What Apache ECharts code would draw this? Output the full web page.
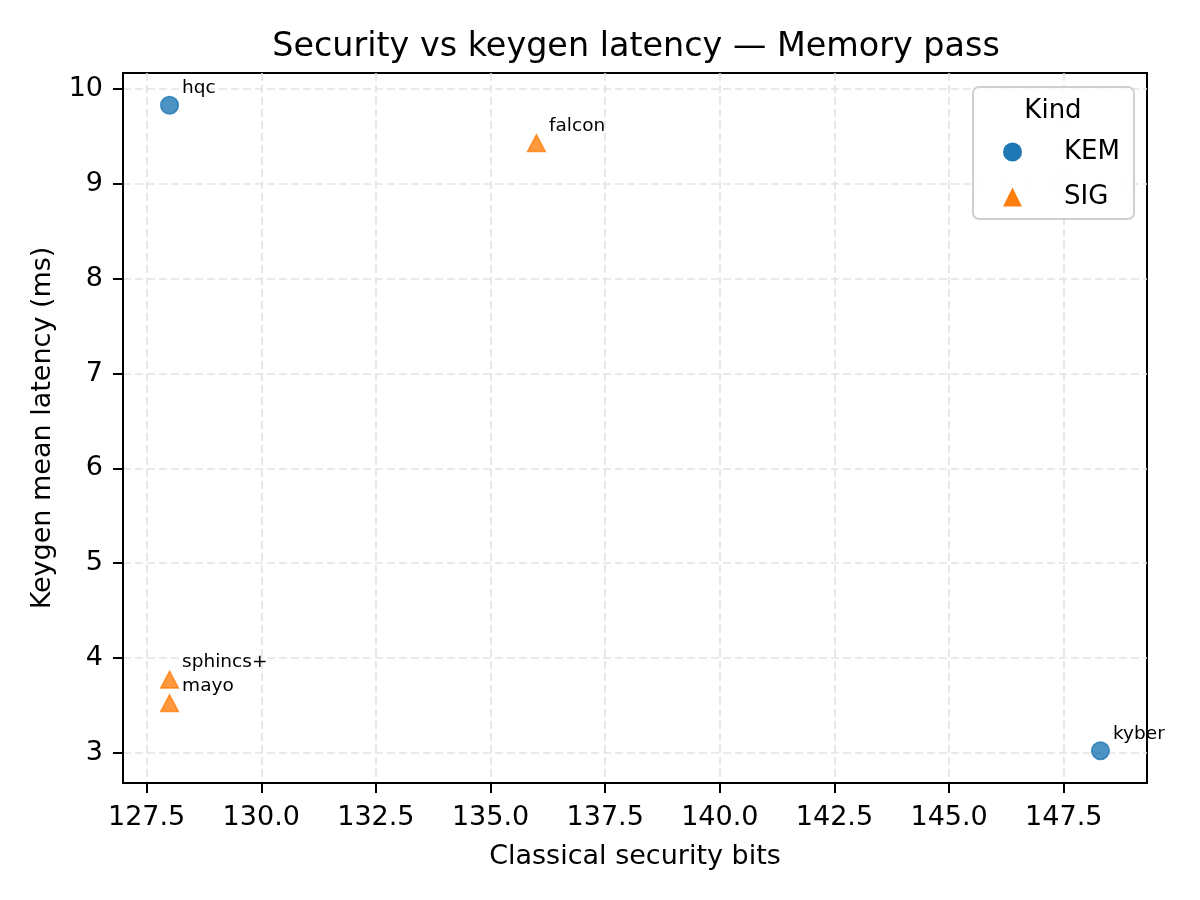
<!DOCTYPE html>
<html>
<head>
<meta charset="utf-8">
<script src="https://cdn.jsdelivr.net/npm/echarts@6/dist/echarts.min.js"></script>
<style>
  html, body { margin: 0; padding: 0; background: #fff; }
  #chart { width: 1200px; height: 900px; }
</style>
</head>
<body>
<div id="chart"></div>
<script>
// scheme points
const kemNames = ['hqc', 'kyber'];
const kemBits = [128, 148.3];
const kemLatency = [9.83, 3.02];

const sigNames = ['falcon', 'sphincs+', 'mayo'];
const sigBits = [136, 128, 128];
const sigLatency = [9.43, 3.77, 3.52];

const xTicks = [127.5, 130, 132.5, 135, 137.5, 140, 142.5, 145, 147.5];
const yTicks = [3, 4, 5, 6, 7, 8, 9, 10];

const FONT = 'DejaVu Sans';
const BLUE = '#1f77b4';
const ORANGE = '#ff7f0e';

function toPoints(names, xs, ys) {
  let out = [];
  for (let i = 0; i < names.length; i++) {
    out.push({ name: names[i], value: [xs[i], ys[i]] });
  }
  return out;
}

// matplotlib style 5% margins around the data
function padRange(vals) {
  const lo = Math.min.apply(null, vals);
  const hi = Math.max.apply(null, vals);
  const pad = (hi - lo) * 0.05;
  return [lo - pad, hi + pad];
}
const xRange = padRange(kemBits.concat(sigBits));
const yRange = padRange(kemLatency.concat(sigLatency));

const gridLine = { show: true, lineStyle: { color: '#e3e3e3', width: 1.6, type: [8, 4] } };

function pointLabel() {
  return {
    show: true,
    position: 'right',
    distance: 3,
    offset: [0, -17],
    formatter: '{b}',
    fontFamily: FONT,
    fontSize: 18.5,
    color: '#000',
    opacity: 1
  };
}

const chart = echarts.init(document.getElementById('chart'), null, { renderer: 'canvas' });

const options = {
  backgroundColor: '#fff',
  animation: false,
  title: {
    text: 'Security vs keygen latency \u2014 Memory pass',
    left: 631,
    top: 26,
    textAlign: 'center',
    textStyle: { fontFamily: FONT, fontSize: 33.4, fontWeight: 'normal', color: '#000' }
  },
  grid: {
    left: 123, right: 53, top: 73, bottom: 117,
    show: true, borderColor: '#000', borderWidth: 2, backgroundColor: 'transparent'
  },
  xAxis: {
    type: 'value',
    min: xRange[0],
    max: xRange[1],
    name: 'Classical security bits',
    nameLocation: 'middle',
    nameGap: 60,
    nameTextStyle: { fontFamily: FONT, fontSize: 27, color: '#000' },
    axisLine: { show: true, lineStyle: { color: '#000', width: 2 } },
    axisTick: { show: true, inside: false, length: 10, lineStyle: { color: '#000', width: 2 }, customValues: xTicks },
    axisLabel: {
      fontFamily: FONT, fontSize: 27, color: '#000', margin: 21,
      customValues: xTicks,
      formatter: (v) => Number(v).toFixed(1)
    },
    splitLine: gridLine
  },
  yAxis: {
    type: 'value',
    min: yRange[0],
    max: yRange[1],
    name: 'Keygen mean latency (ms)',
    nameLocation: 'middle',
    nameGap: 67,
    nameTextStyle: { fontFamily: FONT, fontSize: 27, color: '#000' },
    axisLine: { show: true, lineStyle: { color: '#000', width: 2 } },
    axisTick: { show: true, inside: false, length: 10, lineStyle: { color: '#000', width: 2 }, customValues: yTicks },
    axisLabel: {
      fontFamily: FONT, fontSize: 27, color: '#000', margin: 20,
      customValues: yTicks,
      formatter: (v) => String(Math.round(v))
    },
    splitLine: gridLine
  },
  legend: {
    orient: 'vertical',
    left: 998,
    top: 134,
    itemWidth: 19,
    itemHeight: 19,
    itemGap: 19,
    z: 6,
    textStyle: { fontFamily: FONT, fontSize: 26, color: '#000', padding: [0, 0, 0, 37] },
    data: [
      { name: 'KEM', icon: 'circle', itemStyle: { color: BLUE, opacity: 1, borderWidth: 0 } },
      { name: 'SIG', icon: 'triangle', itemStyle: { color: ORANGE, opacity: 1, borderWidth: 0 } }
    ]
  },
  graphic: [
    {
      type: 'rect',
      z: 5,
      shape: { x: 973, y: 87, width: 161, height: 132, r: 6 },
      style: { fill: 'rgba(255,255,255,0.8)', stroke: '#d0d0d0', lineWidth: 2 }
    },
    {
      type: 'text',
      z: 6,
      style: {
        x: 1053, y: 111, text: 'Kind', align: 'center', verticalAlign: 'middle',
        font: '26px "DejaVu Sans"', fill: '#000'
      }
    }
  ],
  series: [
    {
      name: 'KEM',
      type: 'scatter',
      symbol: 'circle',
      symbolSize: 17.5,
      z: 3,
      itemStyle: { color: 'rgba(31,119,180,0.8)', borderColor: 'rgba(31,119,180,0.8)', borderWidth: 1.6, opacity: 1 },
      label: pointLabel(),
      data: toPoints(kemNames, kemBits, kemLatency)
    },
    {
      name: 'SIG',
      type: 'scatter',
      symbol: 'triangle',
      symbolSize: [17.5, 16.5],
      z: 3,
      itemStyle: { color: 'rgba(255,127,14,0.8)', borderColor: 'rgba(255,127,14,0.8)', borderWidth: 1.6, opacity: 1 },
      label: pointLabel(),
      data: toPoints(sigNames, sigBits, sigLatency)
    }
  ]
};

chart.setOption(options);
</script>
</body>
</html>
